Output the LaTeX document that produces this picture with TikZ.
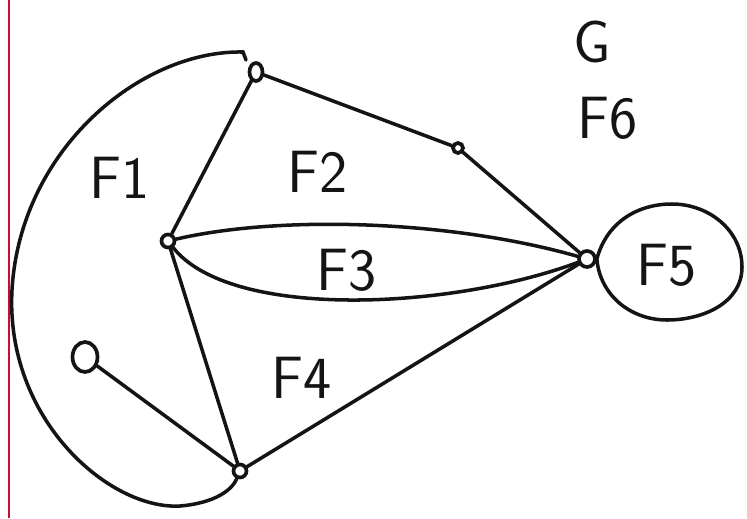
\documentclass[tikz,border=0pt]{standalone}
\usetikzlibrary{positioning, shapes.geometric}
\definecolor{marginred}{HTML}{C8102E}
\definecolor{inkblack}{HTML}{141414}

\begin{document}
\begin{tikzpicture}[
    x=0.02cm,
    y=-0.02cm,
    vertex/.style={circle, draw=inkblack, line width=2.1pt, inner sep=0pt, minimum size=0.26cm},
    edge/.style={draw=inkblack, line width=2pt, line cap=round},
    face/.style={font=\sffamily\fontsize{34}{36}\selectfont, text=inkblack, inner sep=0pt}
  ]
  \useasboundingbox (0,0) rectangle (747,518);
  \draw[marginred, line width=1pt] (9,0) -- (9,518);
  % vertices
  \node[vertex, ellipse, minimum width=0.26cm, minimum height=0.36cm] (a) at (256,72) {};
  \node[vertex, minimum size=0.2cm] (b) at (458,148) {};
  \node[vertex] (c) at (168,241) {};
  \node[vertex, minimum size=0.32cm] (d) at (587,259) {};
  \node[vertex, ellipse, minimum width=0.5cm, minimum height=0.6cm] (e) at (85,357) {};
  \node[vertex] (f) at (240,471) {};
  \coordinate (hook) at (243,52);
  % edges
  \draw[edge] (a) -- (b);
  \draw[edge] (b) -- (d);
  \draw[edge] (a) -- (c);
  \draw[edge] (c) .. controls (280,215) and (450,220) .. (d);
  \draw[edge] (c) .. controls (230,320) and (450,310) .. (d);
  \draw[edge] (c) -- (f);
  \draw[edge] (f) -- (d);
  \draw[edge] (e) -- (f);
  \draw[edge] (246,60) -- (hook) .. controls (140,50) and (20,150) .. (12,290)
    .. controls (5,420) and (110,510) .. (180,506)
    .. controls (215,503) and (232,490) .. (f);
  \draw[edge] (d.east) to[out=75, in=180] (672,204) to[out=0, in=90] (742,267)
    to[out=-90, in=0] (667,320) to[out=180, in=-85] (d.east);
  % faces
  \node[face] (g) at (592,42) {G};
  \node[face] (f6) at (608,118) {F6};
  \node[face] (f1) at (120,178) {F1};
  \node[face] (f2) at (318,172) {F2};
  \node[face] (f3) at (347,270) {F3};
  \node[face] (f4) at (302,378) {F4};
  \node[face] (f5) at (667,265) {F5};
\end{tikzpicture}
\end{document}
